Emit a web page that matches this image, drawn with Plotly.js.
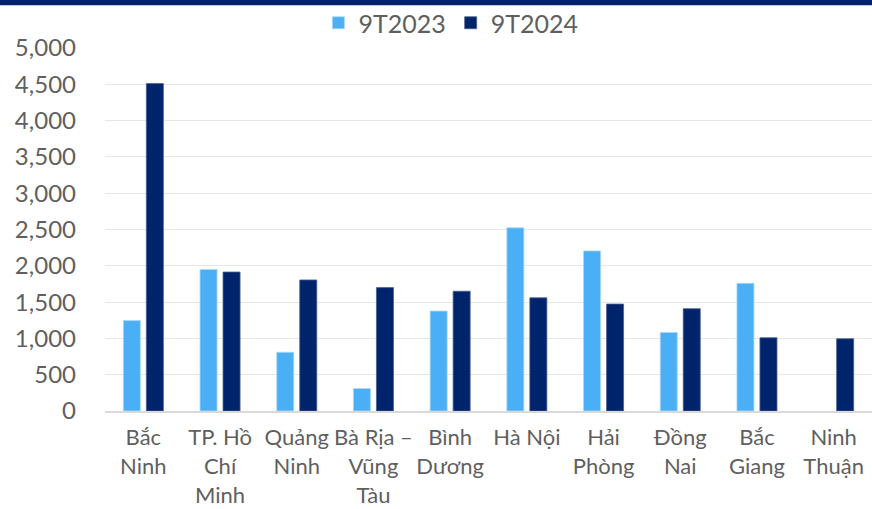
<!DOCTYPE html>
<html>
<head>
<meta charset="utf-8">
<script src="https://cdn.plot.ly/plotly-3.0.1.min.js"></script>
<style>html,body{margin:0;padding:0;background:#fff;}#chart{width:872px;height:509px;}</style>
</head>
<body>
<div id="chart"></div>
<script>
const categories = ["Bắc<br>Ninh", "TP. Hồ<br>Chí<br>Minh", "Quảng<br>Ninh", "Bà Rịa –<br>Vũng<br>Tàu", "Bình<br>Dương", "Hà Nội", "Hải<br>Phòng", "Đồng<br>Nai", "Bắc<br>Giang", "Ninh<br>Thuận"];
const series2023 = [1245, 1950, 809, 309, 1377, 2523, 2205, 1082, 1759, null];
const series2024 = [4510, 1914, 1805, 1700, 1650, 1559, 1473, 1409, 1009, 995];
const seriesNames = ["9T2023", "9T2024"];
const yTicks = [0, 500, 1000, 1500, 2000, 2500, 3000, 3500, 4000, 4500, 5000];

const font = {family: "Lato, Open Sans, sans-serif", color: "#5F5F5F"};
const data = [
  {type: "bar", name: seriesNames[0], x: categories, y: series2023,
   marker: {color: "#4BAFF5", line: {color: "#A8D8FA", width: 0.8}}},
  {type: "bar", name: seriesNames[1], x: categories, y: series2024,
   marker: {color: "#00246B", line: {color: "#4A5F8F", width: 0.8}}}
];
const layout = {
  width: 872, height: 509,
  margin: {l: 105, r: 0, t: 45, b: 98},
  paper_bgcolor: "#fff", plot_bgcolor: "#fff",
  barmode: "group", bargap: 0.4, bargroupgap: 0.26,
  font: Object.assign({size: 22}, font),
  showlegend: true,
  legend: {orientation: "h", x: 0.451, xanchor: "center", y: 1.07, yanchor: "middle",
           bgcolor: "rgba(0,0,0,0)",
           font: Object.assign({size: 25}, font), traceorder: "normal"},
  xaxis: {tickfont: Object.assign({size: 22}, font), showline: true, linecolor: "#D9D9D9", linewidth: 2,
          ticks: "", showgrid: false, automargin: false, ticklabelstandoff: 6, tickangle: 0},
  yaxis: {range: [0, 5000], tickvals: yTicks, tickformat: ",d", tickfont: Object.assign({size: 24}, font),
          showgrid: true, gridcolor: "#E6E6E6", gridwidth: 1, zeroline: false, showline: false,
          ticks: "", ticklabelstandoff: 28, automargin: false},
  shapes: [{type: "rect", xref: "paper", yref: "paper", x0: -0.2, x1: 1.1, y0: 1.118, y1: 1.2,
            fillcolor: "#00246B", line: {width: 0}, layer: "below"}]
};
Plotly.newPlot("chart", data, layout, {displayModeBar: false, staticPlot: true});
</script>
</body>
</html>
